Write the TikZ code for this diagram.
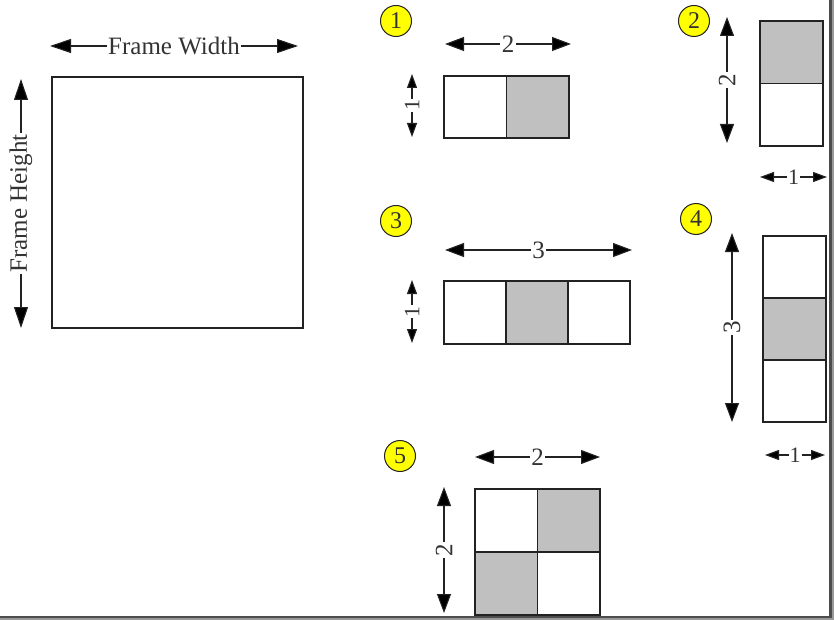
\documentclass[tikz,border=0pt]{standalone}
\usepackage{fontspec}
\setmainfont{Liberation Serif}
\usetikzlibrary{arrows.meta}
\definecolor{ink}{HTML}{333333}
\definecolor{edge}{HTML}{222222}
\definecolor{shade}{HTML}{C0C0C0}
\definecolor{badgefill}{HTML}{FFFF00}
\begin{document}
\begin{tikzpicture}[x=1pt,y=-1pt,
  dimbig/.style={draw=edge, line width=1.1pt, {Triangle[length=21pt,width=14pt,fill=black]}-{Triangle[length=21pt,width=14pt,fill=black]}},
  dimmid/.style={draw=edge, line width=1.1pt, {Triangle[length=19pt,width=14pt,fill=black]}-{Triangle[length=19pt,width=14pt,fill=black]}},
  dimsm/.style={draw=edge, line width=1.1pt, {Triangle[length=14pt,width=10pt,fill=black]}-{Triangle[length=14pt,width=10pt,fill=black]}},
  lbl/.style={fill=white, inner sep=1.5pt, text=ink, font=\fontsize{25}{25}\selectfont},
  lblsm/.style={fill=white, inner sep=1pt, text=ink, font=\fontsize{22}{22}\selectfont},
  cellbox/.style={draw=edge, line width=1.8pt, anchor=north west, inner sep=0pt, outer sep=0pt},
  cellw/.style={cellbox, fill=white},
  cellg/.style={cellbox, fill=shade},
  badge/.style={circle, draw=edge, line width=1pt, fill=badgefill, minimum size=31pt, inner sep=0pt, text=ink, font=\fontsize{24}{24}\selectfont}
]
\useasboundingbox (0,0) rectangle (834,620);
\fill[white] (0,0) rectangle (834,620);
% shadow border
\fill[black!70] (829,0) rectangle (831.5,620);
\fill[black!40] (831.5,0) rectangle (834,620);
\fill[black!70] (0,615.5) rectangle (831.5,618);
\fill[black!40] (0,618) rectangle (834,620);

% main frame
\node[cellw, minimum width=251pt, minimum height=251pt] (frame) at (52,77) {};
\coordinate (fwL) at (50,46); \coordinate (fwR) at (298,46);
\draw[dimbig] (fwL) -- (fwR) node[lbl, midway] (fwlbl) {Frame Width};
\coordinate (fhT) at (21,79); \coordinate (fhB) at (21,328);
\draw[dimbig] (fhB) -- (fhT) node[lbl, midway, rotate=90] (fhlbl) {Frame Height};

% badges
\node[badge] (n1) at (396,21) {1};
\node[badge] (n2) at (694,21) {2};
\node[badge] (n3) at (396,221) {3};
\node[badge] (n4) at (696,219) {4};
\node[badge] (n5) at (400,456) {5};

% layout 1
\node[cellw, minimum width=62.5pt, minimum height=62pt] (a1) at (444,76) {};
\node[cellg, minimum width=62.5pt, minimum height=62pt] (a2) at (506.5,76) {};
\coordinate (a1hL) at (445,44); \coordinate (a1hR) at (571,44);
\draw[dimmid] (a1hL) -- (a1hR) node[lbl, midway] (a1hl) {2};
\coordinate (a1vT) at (412,74); \coordinate (a1vB) at (412,137);
\draw[dimsm] (a1vB) -- (a1vT) node[lblsm, midway, rotate=90] (a1vl) {1};

% layout 2
\node[cellg, minimum width=63pt, minimum height=62.5pt] (b1) at (760,21) {};
\node[cellw, minimum width=63pt, minimum height=62.5pt] (b2) at (760,83.5) {};
\coordinate (b2vT) at (727,17); \coordinate (b2vB) at (727,143);
\draw[dimmid] (b2vB) -- (b2vT) node[lbl, midway, rotate=90] (b2vl) {2};
\coordinate (b2hL) at (760,177); \coordinate (b2hR) at (827,177);
\draw[dimsm] (b2hL) -- (b2hR) node[lblsm, midway] (b2hl) {1};

% layout 3
\node[cellw, minimum width=62pt, minimum height=63pt] (c1) at (444,281) {};
\node[cellg, minimum width=62pt, minimum height=63pt] (c2) at (506,281) {};
\node[cellw, minimum width=62pt, minimum height=63pt] (c3) at (568,281) {};
\coordinate (c3hL) at (445,250); \coordinate (c3hR) at (632,250);
\draw[dimmid] (c3hL) -- (c3hR) node[lbl, midway] (c3hl) {3};
\coordinate (c3vT) at (412,280); \coordinate (c3vB) at (412,343);
\draw[dimsm] (c3vB) -- (c3vT) node[lblsm, midway, rotate=90] (c3vl) {1};

% layout 4
\node[cellw, minimum width=63pt, minimum height=62pt] (d1) at (763,236) {};
\node[cellg, minimum width=63pt, minimum height=62pt] (d2) at (763,298) {};
\node[cellw, minimum width=63pt, minimum height=62pt] (d3) at (763,360) {};
\coordinate (d4vT) at (732,233); \coordinate (d4vB) at (732,422);
\draw[dimmid] (d4vB) -- (d4vT) node[lbl, midway, rotate=90] (d4vl) {3};
\coordinate (d4hL) at (765,455); \coordinate (d4hR) at (825,455);
\draw[dimsm] (d4hL) -- (d4hR) node[lblsm, midway] (d4hl) {1};

% layout 5
\node[cellw, minimum width=62.5pt, minimum height=63pt] (e1) at (475,489) {};
\node[cellg, minimum width=62.5pt, minimum height=63pt] (e2) at (537.5,489) {};
\node[cellg, minimum width=62.5pt, minimum height=63pt] (e3) at (475,552) {};
\node[cellw, minimum width=62.5pt, minimum height=63pt] (e4) at (537.5,552) {};
\draw[draw=edge, line width=1.8pt] (e1.north east) -- (e3.south east) (e1.south west) -- (e2.south east);
\coordinate (e5hL) at (475,457); \coordinate (e5hR) at (600,457);
\draw[dimmid] (e5hL) -- (e5hR) node[lbl, midway] (e5hl) {2};
\coordinate (e5vT) at (444,487); \coordinate (e5vB) at (444,613);
\draw[dimmid] (e5vB) -- (e5vT) node[lbl, midway, rotate=90] (e5vl) {2};
\end{tikzpicture}
\end{document}
